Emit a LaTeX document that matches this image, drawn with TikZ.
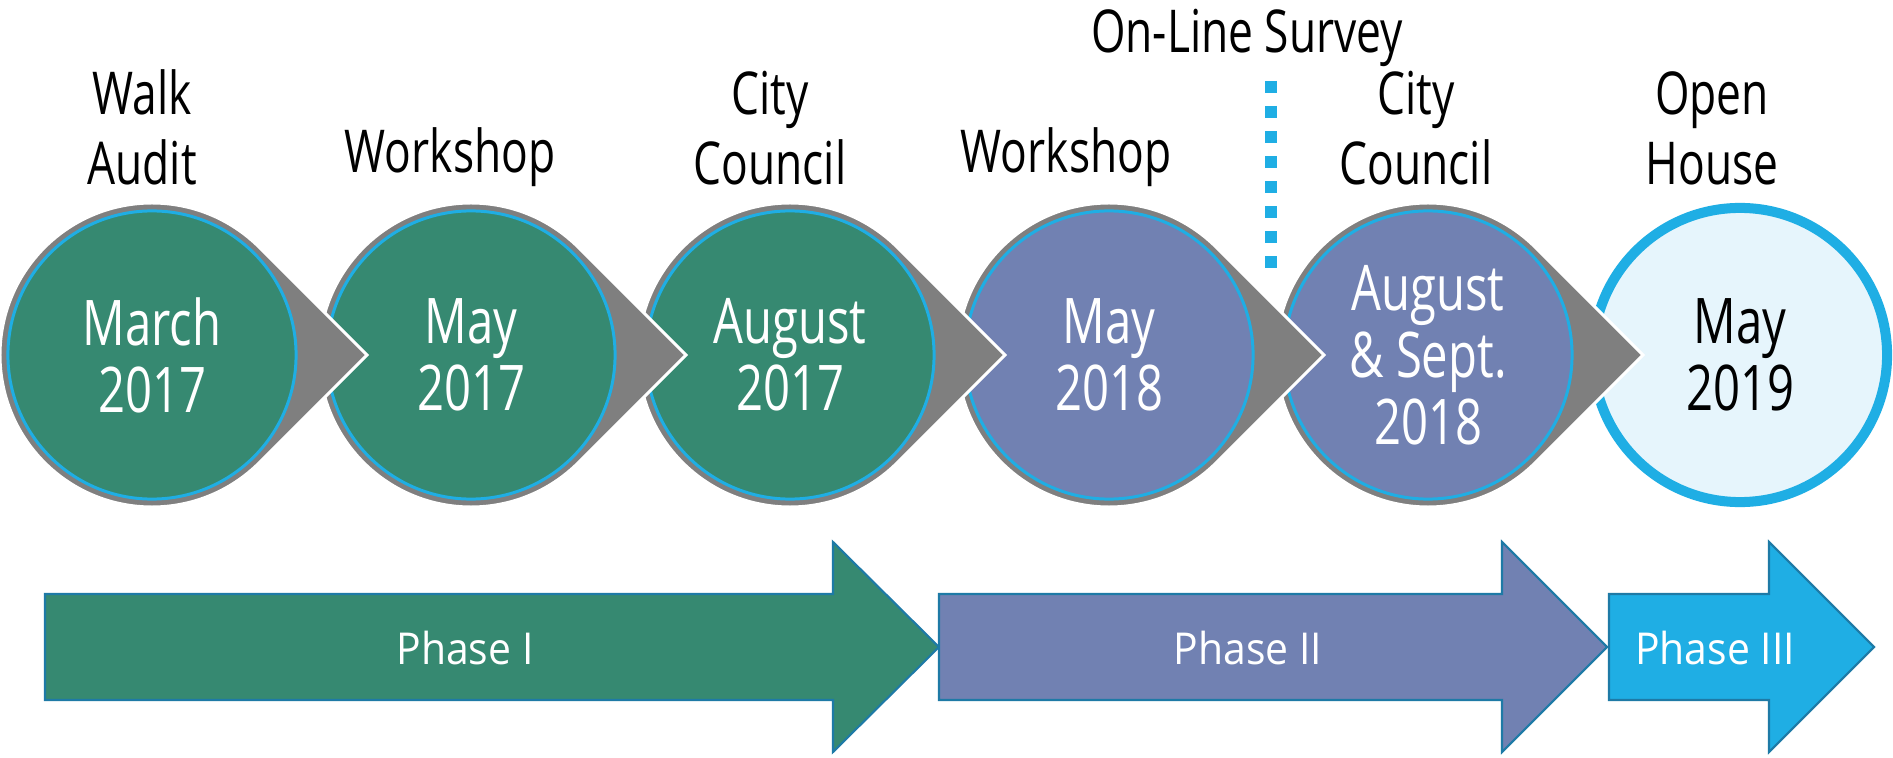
\documentclass[tikz,border=0pt]{standalone}
\usepackage{fontspec}
\setmainfont{Open Sans}
\newfontfamily\narrowfont{Open Sans}[FakeStretch=0.75]
\newfontfamily\phasefont{Open Sans}[FakeStretch=0.93]
\usepackage{tikz}
\definecolor{stagegreen}{RGB}{54, 137, 113}
\definecolor{stagepurple}{RGB}{113, 129, 178}
\definecolor{stageblue}{RGB}{31, 174, 228}
\definecolor{stagelight}{RGB}{230, 245, 252}
\definecolor{dropgray}{RGB}{127, 127, 127}
\definecolor{edgeblue}{RGB}{30, 122, 166}

\tikzset{
  stage/.style={circle, minimum size=2.88cm, inner sep=0pt, draw=stageblue,
    line width=0.85pt, text=white, align=center,
    font=\narrowfont\fontsize{17.9}{19.1}\selectfont},
  drop/.style={fill=dropgray, draw=white, line width=0.85pt},
  event/.style={anchor=south, inner sep=0pt, text depth=0pt, align=center,
    font=\narrowfont\fontsize{16.8}{19.9}\selectfont},
  phase/.style={draw=edgeblue, line width=0.6pt},
  phasename/.style={anchor=base, inner sep=0pt, text=white,
    font=\phasefont\fontsize{12.5}{15}\selectfont}
}

\begin{document}
\begin{tikzpicture}[x=0.01cm, y=0.01cm]
  \useasboundingbox (0, 0) rectangle (1893, 757);
  \fill [white] (0, 0) rectangle (1893, 757);

  \coordinate (m1) at (152, 402);
  \coordinate (m2) at (471, 402);
  \coordinate (m3) at (790, 402);
  \coordinate (m4) at (1109, 402);
  \coordinate (m5) at (1428, 402);
  \coordinate (m6) at (1740, 402);

  % right to left, so each pointer lies over the next circle
  \node [stage, minimum size=2.94cm, line width=2.85pt, fill=stagelight, text=black] (c6) at (m6) {May\\2019};

  \draw [drop] (m5) ++(45:152) arc [start angle=45, end angle=315, radius=152] -- ++(107.5, 107.5) -- cycle;
  \node [stage, fill=stagepurple] (c5) at (m5) {August\\\& Sept.\\2018};

  \draw [drop] (m4) ++(45:152) arc [start angle=45, end angle=315, radius=152] -- ++(107.5, 107.5) -- cycle;
  \node [stage, fill=stagepurple] (c4) at (m4) {May\\2018};

  \draw [drop] (m3) ++(45:152) arc [start angle=45, end angle=315, radius=152] -- ++(107.5, 107.5) -- cycle;
  \node [stage, fill=stagegreen] (c3) at (m3) {August\\2017};

  \draw [drop] (m2) ++(45:152) arc [start angle=45, end angle=315, radius=152] -- ++(107.5, 107.5) -- cycle;
  \node [stage, fill=stagegreen] (c2) at (m2) {May\\2017};

  \draw [drop] (m1) ++(45:152) arc [start angle=45, end angle=315, radius=152] -- ++(107.5, 107.5) -- cycle;
  \node [stage, fill=stagegreen] (c1) at (m1) {March\\2017};

  \node [event] (walk) at (142, 572) {Walk\\Audit};
  \node [event] (shop1) at (450, 584) {Workshop};
  \node [event] (council1) at (770, 572) {City\\Council};
  \node [event] (shop2) at (1066, 584) {Workshop};
  \node [event] (council2) at (1416, 572) {City\\Council};
  \node [event] (house) at (1712, 572) {Open\\House};
  \node [event] (survey) at (1247, 704) {On-Line Survey};

  \coordinate (s1) at (1271, 676);
  \coordinate (s2) at (1271, 484);
  \draw [stageblue, line width=3.41pt, dash pattern=on 3.41pt off 3.7pt] (s1) -- (s2);

  \filldraw [phase, fill=stagegreen] (45, 57) -- (45, 163) -- (833, 163) -- (833, 215) -- (939, 110) -- (833, 5) -- (833, 57) -- cycle;
  \node [phasename] (ph1) at (465, 93) {Phase I};

  \filldraw [phase, fill=stagepurple] (939, 57) -- (939, 163) -- (1502, 163) -- (1502, 215) -- (1607, 110) -- (1502, 5) -- (1502, 57) -- cycle;
  \node [phasename] (ph2) at (1248, 93) {Phase II};

  \filldraw [phase, fill=stageblue] (1609, 57) -- (1609, 163) -- (1769, 163) -- (1769, 215) -- (1874, 110) -- (1769, 5) -- (1769, 57) -- cycle;
  \node [phasename] (ph3) at (1715, 93) {Phase III};

\end{tikzpicture}
\end{document}
